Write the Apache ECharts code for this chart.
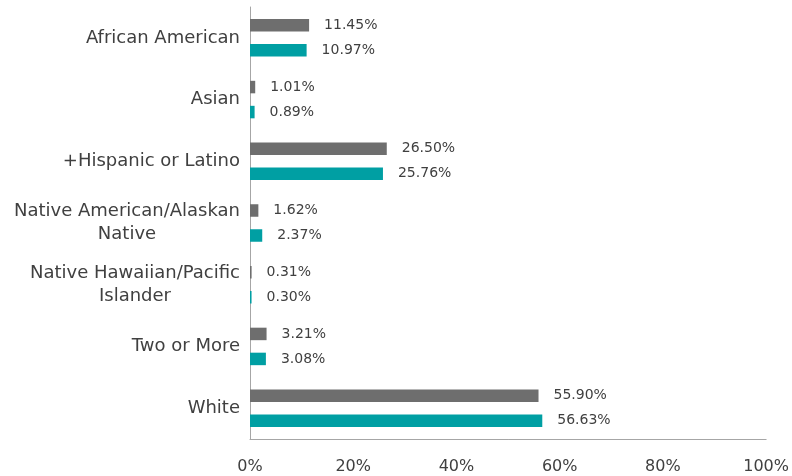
<!DOCTYPE html>
<html>
<head>
<meta charset="utf-8">
<script src="https://cdn.jsdelivr.net/npm/echarts@6/dist/echarts.min.js"></script>
<style>html,body{margin:0;padding:0;background:#fff}#c{width:792px;height:476px}</style>
</head>
<body>
<div id="c"></div>
<script>
const categories = ['African American', 'Asian', '+Hispanic or Latino', 'Native American/Alaskan\nNative', 'Native Hawaiian/Pacific\nIslander', 'Two or More', 'White'];
const seriesA = [11.45, 1.01, 26.50, 1.62, 0.31, 3.21, 55.90];
const seriesB = [10.97, 0.89, 25.76, 2.37, 0.30, 3.08, 56.63];
const xTicks = [0, 20, 40, 60, 80, 100];

const FONT = 'DejaVu Sans';
const chart = echarts.init(document.getElementById('c'), null, {renderer: 'canvas'});
const labelCfg = {
  show: true, position: 'right', distance: 15,
  color: '#404040', fontFamily: FONT, fontSize: 14,
  formatter: p => p.value.toFixed(2) + '%'
};
chart.setOption({
  animation: false,
  grid: {left: 250, right: 24, top: 7, bottom: 37, containLabel: false},
  xAxis: {
    type: 'value', min: xTicks[0], max: xTicks[xTicks.length - 1], interval: 20,
    axisLine: {show: true, lineStyle: {color: '#a6a6a6', width: 1}},
    axisTick: {show: false},
    splitLine: {show: false},
    axisLabel: {
      color: '#404040', fontFamily: FONT, fontSize: 16, margin: 20,
      formatter: v => v + '%'
    }
  },
  yAxis: {
    type: 'category', data: categories, inverse: true,
    axisLine: {show: true, lineStyle: {color: '#a6a6a6', width: 1}},
    axisTick: {show: false},
    axisLabel: {
      color: '#404040', fontFamily: FONT, fontSize: 18, margin: 10, lineHeight: 23,
      formatter: v => v.split('\n').map(s => '{c|' + s + '}').join('\n'),
      rich: {c: {align: 'center', color: '#404040', fontFamily: FONT, fontSize: 18, lineHeight: 23}}
    }
  },
  series: [
    {type: 'bar', data: seriesA, barWidth: 12.5, barGap: '100%', itemStyle: {color: '#6e6e6e'}, label: labelCfg},
    {type: 'bar', data: seriesB, barWidth: 12.5, barGap: '100%', itemStyle: {color: '#009fa3'}, label: labelCfg}
  ]
});
</script>
</body>
</html>
